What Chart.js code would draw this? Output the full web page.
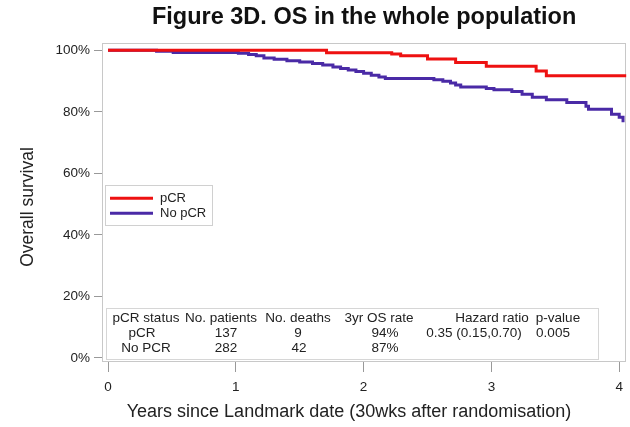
<!DOCTYPE html>
<html>
<head>
<meta charset="utf-8">
<script src="https://cdn.jsdelivr.net/npm/chart.js@4"></script>
<style>
html,body{margin:0;padding:0;background:#fff;}
#wrap{width:630px;height:427px;position:relative;}
</style>
</head>
<body>
<div id="wrap"><canvas id="c" width="630" height="427"></canvas></div>
<script>
const titleText = "Figure 3D. OS in the whole population";
const xAxisTitle = "Years since Landmark date (30wks after randomisation)";
const yAxisTitle = "Overall survival";
const xTicks = [0, 1, 2, 3, 4];
const yTicks = [0, 20, 40, 60, 80, 100];
const seriesNames = ["pCR", "No pCR"];
const pcrTimes = [0, 1.71, 2.22, 2.29, 2.50, 2.72, 2.96, 3.35, 3.43, 4.06];
const pcrSurv  = [100, 99.2, 98.8, 98.2, 97.2, 96.0, 94.8, 93.3, 91.7, 91.7];
const noPcrTimes = [0, 0.38, 0.51, 1.02, 1.10, 1.16, 1.22, 1.30, 1.40, 1.50, 1.60, 1.68, 1.76, 1.82, 1.88, 1.94, 2.00, 2.06, 2.12, 2.17, 2.55, 2.62, 2.68, 2.72, 2.76, 2.96, 3.02, 3.16, 3.24, 3.32, 3.43, 3.59, 3.74, 3.76, 3.94, 4.00, 4.03];
const noPcrSurv  = [100, 99.7, 99.3, 99.0, 98.6, 98.2, 97.5, 97.1, 96.6, 96.2, 95.7, 95.2, 94.6, 94.1, 93.6, 93.1, 92.5, 91.9, 91.3, 90.8, 90.4, 89.9, 89.4, 88.7, 88.1, 87.6, 87.2, 86.6, 85.7, 84.7, 83.9, 83.0, 81.8, 80.8, 79.2, 78.2, 76.6];
const tableHeaders = ["pCR status", "No. patients", "No. deaths", "3yr OS rate", "Hazard ratio", "p-value"];
const tableRowPcr = ["pCR", "137", "9", "94%", "0.35 (0.15,0.70)", "0.005"];
const tableRowNoPcr = ["No PCR", "282", "42", "87%", "", ""];

const colors = ["#ee1111", "#4a2aa6"];
const FONT = "'Liberation Sans', Arial, sans-serif";

function toPts(t, s) { return t.map((v, i) => ({x: v, y: s[i]})); }

const framePlugin = {
  id: 'frame',
  beforeDatasetsDraw(chart) {
    const a = chart.chartArea, ctx = chart.ctx;
    ctx.save();
    ctx.strokeStyle = '#c8c8c8';
    ctx.lineWidth = 1;
    ctx.strokeRect(Math.round(a.left) + 0.5, Math.round(a.top) + 0.5, Math.round(a.right - a.left) - 1, Math.round(a.bottom - a.top) - 1);
    ctx.restore();
  },
  afterDatasetsDraw(chart) {
    const ctx = chart.ctx;
    const a = chart.chartArea;
    const ys = chart.scales.y;
    ctx.save();
    // axis titles
    ctx.fillStyle = '#222';
    ctx.textAlign = 'center'; ctx.textBaseline = 'middle';
    ctx.font = "18px " + FONT;
    ctx.fillText(xAxisTitle, a.left + 247, 412);
    ctx.save();
    ctx.translate(28, 207);
    ctx.rotate(-Math.PI / 2);
    ctx.font = "17.5px " + FONT;
    ctx.fillText(yAxisTitle, 0, 0);
    ctx.restore();
    // legend
    const lx = a.left + 3, ly = ys.getPixelForValue(56.1);
    ctx.strokeStyle = '#d0d0d0'; ctx.lineWidth = 1;
    ctx.strokeRect(Math.round(lx) + 0.5, Math.round(ly) + 0.5, 107, 40);
    ctx.font = "13px " + FONT;
    ctx.textBaseline = 'middle'; ctx.textAlign = 'left';
    seriesNames.forEach((n, i) => {
      const yy = ly + 13 + i * 15;
      ctx.strokeStyle = colors[i]; ctx.lineWidth = 3;
      ctx.beginPath(); ctx.moveTo(lx + 5, yy); ctx.lineTo(lx + 48, yy); ctx.stroke();
      ctx.fillStyle = '#222';
      ctx.fillText(n, lx + 55, yy);
    });
    // table
    const tx = a.left + 4, ty = ys.getPixelForValue(16.2);
    const tw = 492, th = 51;
    ctx.strokeStyle = '#d6d6d6'; ctx.lineWidth = 1;
    ctx.strokeRect(Math.round(tx) + 0.5, Math.round(ty) + 0.5, tw, th);
    const headOff = [44, 119, 196, 277, 390, 456];
    const valOff  = [[40, 124, 196, 283, 372, 451], [44, 124, 197, 283, 372, 451]];
    ctx.font = "13.5px " + FONT;
    ctx.fillStyle = '#222';
    ctx.textAlign = 'center';
    const rows = [tableHeaders, tableRowPcr, tableRowNoPcr];
    const rowOff = [9, 24, 39];
    rows.forEach((r, ri) => {
      r.forEach((txt, ci) => {
        const cx = a.left + (ri === 0 ? headOff[ci] : valOff[ri - 1][ci]);
        ctx.fillText(txt, cx, ty + rowOff[ri] + 1);
      });
    });
    ctx.restore();
  }
};

new Chart(document.getElementById('c'), {
  type: 'line',
  data: {
    datasets: [
      { label: seriesNames[0], data: toPts(pcrTimes, pcrSurv), borderColor: colors[0], borderWidth: 3, pointRadius: 0, stepped: 'before', fill: false },
      { label: seriesNames[1], data: toPts(noPcrTimes, noPcrSurv), borderColor: colors[1], borderWidth: 3, pointRadius: 0, stepped: 'before', fill: false }
    ]
  },
  options: {
    responsive: false,
    animation: false,
    devicePixelRatio: 1,
    layout: { padding: { left: 0, right: 3, top: 0, bottom: 0 } },
    plugins: {
      legend: { display: false },
      tooltip: { enabled: false },
      title: {
        display: true, text: titleText, fullSize: false,
        color: '#111', font: { family: FONT, size: 23.5, weight: 'bold' },
        padding: { top: 3, bottom: 12 }
      }
    },
    scales: {
      x: {
        type: 'linear', min: -0.047, max: 4.055,
        afterBuildTicks(s) { s.ticks = xTicks.map(v => ({value: v})); },
        afterFit(s) { s.height = 65; },
        grid: { display: true, drawOnChartArea: false, drawTicks: true, tickLength: 10, color: '#999' },
        border: { display: false },
        ticks: { color: '#222', font: { family: FONT, size: 13.5 }, padding: 7, maxRotation: 0, callback: v => String(v) },
        title: { display: false }
      },
      y: {
        type: 'linear', min: -1.3, max: 102.3,
        afterBuildTicks(s) { s.ticks = yTicks.map(v => ({value: v})); },
        afterFit(s) { s.width = 102; },
        grid: { display: true, drawOnChartArea: false, drawTicks: true, tickLength: 8, color: '#999' },
        border: { display: false },
        ticks: { color: '#222', font: { family: FONT, size: 13.5 }, padding: 4, callback: v => v + '%' },
        title: { display: false }
      }
    }
  },
  plugins: [framePlugin]
});
</script>
</body>
</html>
